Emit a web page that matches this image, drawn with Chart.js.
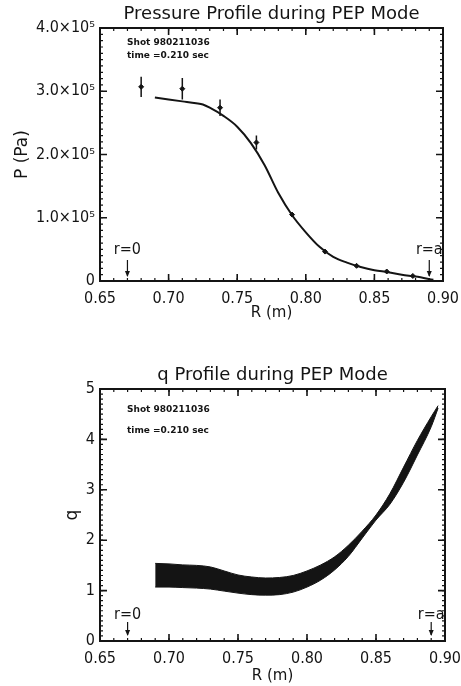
<!DOCTYPE html>
<html>
<head>
<meta charset="utf-8">
<script src="https://cdn.jsdelivr.net/npm/chart.js@4.4.0/dist/chart.umd.min.js"></script>
<style>
  html, body { margin: 0; padding: 0; background: #fff; }
  body { width: 461px; height: 686px; position: relative; overflow: hidden; }
  .box { position: absolute; left: 0; width: 461px; }
  #top { top: 0; height: 330px; }
  #bot { top: 335px; height: 351px; }
</style>
</head>
<body>
<div class="box" id="top"><canvas id="pChart"></canvas></div>
<div class="box" id="bot"><canvas id="qChart"></canvas></div>
<script>
// measured pressure (R in m, P in Pa) with error bars
const pR   = [0.680, 0.710, 0.7375, 0.764, 0.790, 0.814, 0.837, 0.859, 0.878];
const pVal = [3.07e5, 3.04e5, 2.74e5, 2.19e5, 1.05e5, 0.465e5, 0.24e5, 0.15e5, 0.08e5];
const pErr = [0.16e5, 0.17e5, 0.13e5, 0.11e5, 0.03e5, 0.02e5, 0.015e5, 0.01e5, 0.01e5];

// fitted pressure profile
const fitR = [0.69, 0.70, 0.71, 0.72, 0.725, 0.73, 0.74, 0.75, 0.76, 0.77, 0.78, 0.79, 0.80, 0.81, 0.82, 0.83, 0.84, 0.85, 0.86, 0.87, 0.88, 0.893];
const fitP = [2.90e5, 2.87e5, 2.84e5, 2.81e5, 2.79e5, 2.74e5, 2.61e5, 2.44e5, 2.18e5, 1.83e5, 1.39e5, 1.04e5, 0.77e5, 0.54e5, 0.38e5, 0.29e5, 0.22e5, 0.17e5, 0.14e5, 0.10e5, 0.07e5, 0.02e5];

// q profile band
const qR     = [0.69, 0.70, 0.71, 0.72, 0.73, 0.74, 0.75, 0.76, 0.77, 0.78, 0.79, 0.80, 0.81, 0.82, 0.83, 0.84, 0.85, 0.86, 0.87, 0.88, 0.89, 0.895];
const qUpper = [1.54, 1.53, 1.51, 1.50, 1.47, 1.39, 1.31, 1.27, 1.25, 1.26, 1.30, 1.39, 1.51, 1.67, 1.90, 2.18, 2.50, 2.92, 3.45, 3.98, 4.45, 4.67];
const qLower = [1.07, 1.07, 1.06, 1.05, 1.03, 0.99, 0.95, 0.92, 0.91, 0.92, 0.97, 1.07, 1.21, 1.41, 1.68, 2.04, 2.40, 2.71, 3.15, 3.69, 4.25, 4.62];

// r=0 / r=a markers and shot info
const markR    = [0.67, 0.89];
const markText = ['r=0', 'r=a'];
const shotText = ['Shot 980211036', 'time =0.210 sec'];

const ink = '#141414';
const narrow = '"DejaVu Sans Condensed", "DejaVu Sans", sans-serif';
const wide = '"DejaVu Sans", sans-serif';

const idlFrame = {
  id: 'idlFrame',
  afterDatasetsDraw(chart, args, o) {
    const { ctx, chartArea: a, scales: { x, y } } = chart;
    ctx.save();
    ctx.strokeStyle = ink;
    ctx.fillStyle = ink;

    // error bars
    if (o.errX) {
      ctx.lineWidth = 1.5;
      ctx.beginPath();
      o.errX.forEach((r, i) => {
        const px = x.getPixelForValue(r);
        ctx.moveTo(px, y.getPixelForValue(o.errY[i] - o.errE[i]));
        ctx.lineTo(px, y.getPixelForValue(o.errY[i] + o.errE[i]));
      });
      ctx.stroke();
    }

    // box
    ctx.lineWidth = 2;
    ctx.strokeRect(a.left, a.top, a.right - a.left, a.bottom - a.top);

    // inward ticks on all four sides
    const steps = (s, st) => {
      const out = [];
      const n = Math.round((s.max - s.min) / st);
      for (let i = 0; i <= n; i++) out.push(s.getPixelForValue(s.min + i * st));
      return out;
    };
    const xt = (list, len) => list.forEach(px => {
      ctx.moveTo(px, a.bottom); ctx.lineTo(px, a.bottom - len);
      ctx.moveTo(px, a.top); ctx.lineTo(px, a.top + len);
    });
    const yt = (list, len) => list.forEach(py => {
      ctx.moveTo(a.left, py); ctx.lineTo(a.left + len, py);
      ctx.moveTo(a.right, py); ctx.lineTo(a.right - len, py);
    });
    ctx.lineWidth = 1.2;
    ctx.beginPath();
    xt(steps(x, o.xMinor), 3);
    yt(steps(y, o.yMinor), 3);
    ctx.stroke();
    ctx.lineWidth = 1.6;
    ctx.beginPath();
    xt(x.ticks.map(t => x.getPixelForValue(t.value)), 7);
    yt(y.ticks.map(t => y.getPixelForValue(t.value)), 7);
    ctx.stroke();

    // r=0 / r=a arrows
    ctx.lineWidth = 1.2;
    ctx.font = '16px ' + narrow;
    ctx.textAlign = 'center';
    ctx.textBaseline = 'middle';
    markR.forEach((r, i) => {
      const px = x.getPixelForValue(r);
      const y0 = a.bottom - o.arrowFrom, y1 = a.bottom - o.arrowTo;
      ctx.beginPath();
      ctx.moveTo(px, y0); ctx.lineTo(px, y1);
      ctx.stroke();
      ctx.beginPath();
      ctx.moveTo(px - 2.5, y1 - 5); ctx.lineTo(px + 2.5, y1 - 5); ctx.lineTo(px, y1 + 1);
      ctx.closePath();
      ctx.fill();
      ctx.fillText(markText[i], px, a.bottom - o.textOff);
    });

    // title, centred over the plot box
    ctx.font = '18px ' + wide;
    ctx.fillText(o.title, (a.left + a.right) / 2, o.titleY);

    // shot info
    ctx.font = 'bold 9px ' + wide;
    ctx.textAlign = 'left';
    shotText.forEach((t, i) => ctx.fillText(t, a.left + 27, a.top + o.noteY[i]));
    ctx.restore();
  }
};

function baseOptions(cfg) {
  return {
    responsive: true,
    maintainAspectRatio: false,
    animation: false,
    layout: { padding: { left: 0, right: cfg.right, top: cfg.top, bottom: 0 } },
    plugins: {
      legend: { display: false },
      tooltip: { enabled: false },
      idlFrame: cfg.frame
    },
    scales: {
      x: {
        type: 'linear', min: 0.65, max: 0.90,
        grid: { display: false, drawTicks: false },
        border: { display: false },
        ticks: {
          stepSize: 0.05, autoSkip: false, maxRotation: 0, padding: 8, color: ink,
          font: { family: narrow, size: 16 },
          callback: v => v.toFixed(2)
        },
        title: {
          display: true, text: 'R (m)', color: ink,
          font: { family: wide, size: 15 }, padding: { top: 0, bottom: cfg.xTitleBottom }
        },
        afterFit: s => { s.height = cfg.xHeight; s.paddingLeft = 0; s.paddingRight = 0; }
      },
      y: {
        type: 'linear', min: 0, max: cfg.yMax,
        grid: { display: false, drawTicks: false },
        border: { display: false },
        ticks: {
          stepSize: cfg.yStep, autoSkip: false, padding: 5, color: ink,
          font: { family: narrow, size: 16 },
          callback: cfg.yLabel
        },
        title: {
          display: true, text: cfg.yTitle, color: ink,
          font: { family: wide, size: 17 }, padding: { top: cfg.yTitlePad, bottom: 0 }
        },
        afterFit: s => { s.width = 100; s.paddingTop = 0; s.paddingBottom = 0; }
      }
    }
  };
}

new Chart(document.getElementById('pChart'), {
  type: 'scatter',
  data: {
    datasets: [{
      data: fitR.map((r, i) => ({ x: r, y: fitP[i] })),
      showLine: true, borderColor: ink, borderWidth: 2, pointRadius: 0,
      cubicInterpolationMode: 'monotone'
    }, {
      data: pR.map((r, i) => ({ x: r, y: pVal[i] })),
      pointStyle: 'rectRot', pointRadius: 2.5,
      backgroundColor: ink, borderColor: ink, borderWidth: 1
    }]
  },
  options: baseOptions({
    top: 28, right: 18,
    xHeight: 49, xTitleBottom: 8,
    yMax: 4e5, yStep: 1e5, yTitle: 'P (Pa)', yTitlePad: 12,
    yLabel: v => v === 0 ? '0' : (v / 1e5).toFixed(1) + '×10⁵',
    frame: { title: 'Pressure Profile during PEP Mode', titleY: 14,
             xMinor: 0.01, yMinor: 0.1e5, arrowFrom: 21, arrowTo: 5, textOff: 31,
             noteY: [15, 28], errX: pR, errY: pVal, errE: pErr }
  }),
  plugins: [idlFrame]
});

new Chart(document.getElementById('qChart'), {
  type: 'scatter',
  data: {
    datasets: [{
      data: qR.map((r, i) => ({ x: r, y: qLower[i] })),
      showLine: true, borderColor: ink, borderWidth: 1, pointRadius: 0,
      cubicInterpolationMode: 'monotone', fill: false
    }, {
      data: qR.map((r, i) => ({ x: r, y: qUpper[i] })),
      showLine: true, borderColor: ink, borderWidth: 1, pointRadius: 0,
      cubicInterpolationMode: 'monotone', fill: '-1', backgroundColor: ink
    }]
  },
  options: baseOptions({
    top: 54, right: 16,
    xHeight: 45, xTitleBottom: 1,
    yMax: 5, yStep: 1, yTitle: 'q', yTitlePad: 62,
    yLabel: v => String(v),
    frame: { title: 'q Profile during PEP Mode', titleY: 40,
             xMinor: 0.01, yMinor: 0.1, arrowFrom: 19, arrowTo: 6, textOff: 26,
             noteY: [21, 42] }
  }),
  plugins: [idlFrame]
});
</script>
</body>
</html>
